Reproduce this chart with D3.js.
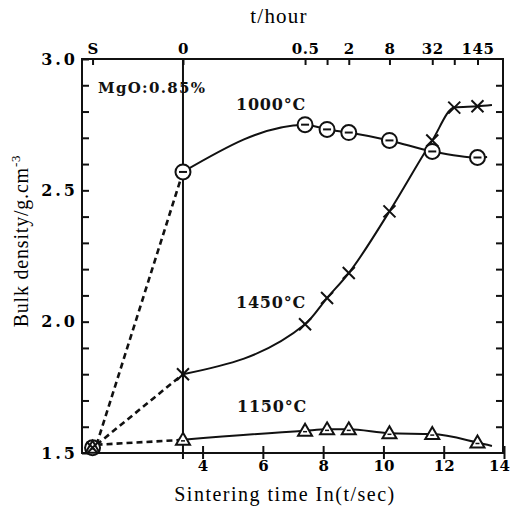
<!DOCTYPE html>
<html lang="en">
  <head>
    <meta charset="UTF-8">
    <title>Bulk density vs sintering time</title>
    <script src="https://d3js.org/d3.v7.min.js"></script>
    <style>
      body { margin: 0; background: white; }
    </style>
  </head>
  <body>
    <script>
      // ln(t/sec) positions of the sampling times
      const startX = 0.35;          // "S"
      const zeroX = 3.35;           // t = 0 hour
      const hourTicks = [7.4, 8.13, 8.85, 10.2, 11.62, 12.35, 13.12];
      const hourLabels = ["0.5", "", "2", "8", "32", "", "145"];
      const startY = 1.52;

      const x1000 = [3.35, 7.4, 8.13, 8.85, 10.2, 11.62, 13.12];
      const y1000 = [2.57, 2.75, 2.732, 2.72, 2.69, 2.648, 2.625];
      const tail1000 = [13.44, 2.627];

      const x1450 = [3.35, 7.4, 8.13, 8.85, 10.2, 11.62, 12.35, 13.12];
      const y1450 = [1.80, 1.99, 2.09, 2.185, 2.42, 2.69, 2.815, 2.82];
      const tail1450 = [13.6, 2.825];

      const x1150 = [3.35, 7.4, 8.13, 8.85, 10.2, 11.62, 13.12];
      const y1150 = [1.55, 1.585, 1.59, 1.59, 1.575, 1.572, 1.54];
      const tail1150 = [13.6, 1.527];

      const bottomTicks = [4, 6, 8, 10, 12, 14];
      const yMajor = [1.5, 2.0, 2.5, 3.0];

      const BOLD = "'DejaVu Serif', 'Liberation Serif', serif";
      const TITLE = "'Liberation Serif', 'Times New Roman', serif";
      const w = 512, h = 513;
      const svg = d3.select("body").append("svg")
                    .attr("width", w).attr("height", h);

      const x = d3.scaleLinear().domain([0, 14]).range([82, 504]);
      const y = d3.scaleLinear().domain([1.5, 3.0]).range([453, 59]);

      // frame
      svg.append("rect")
         .attr("x", x(0)).attr("y", y(3.0))
         .attr("width", x(14) - x(0) - 1).attr("height", y(1.5) - y(3.0))
         .attr("fill", "none").attr("stroke", "#111").attr("stroke-width", 2);

      // left axis
      const yTicks = d3.range(15, 31).map(d => d / 10);
      const gLeft = svg.append("g")
         .attr("transform", `translate(${x(0)},0)`)
         .call(d3.axisLeft(y).tickValues(yTicks).tickSizeInner(-7).tickSizeOuter(0).tickPadding(4)
                 .tickFormat(d => yMajor.some(m => Math.abs(m - d) < 1e-6) ? d.toFixed(1) : ""));
      gLeft.select(".domain").remove();
      gLeft.selectAll("line").attr("stroke-width", 2).attr("stroke", "#111");
      gLeft.selectAll("text").style("font-family", BOLD).style("font-size", "16px").style("font-weight", "bold")
          .style("letter-spacing", "3px");

      // right axis
      const gRight = svg.append("g")
         .attr("transform", `translate(${x(14) - 1},0)`)
         .call(d3.axisRight(y).tickValues(yTicks.slice(1, -1)).tickSizeInner(-7).tickSizeOuter(0).tickFormat(""));
      gRight.select(".domain").remove();
      gRight.selectAll("line").attr("stroke-width", 2).attr("stroke", "#111");

      // bottom axis
      const gBottom = svg.append("g")
         .attr("transform", `translate(0,${y(1.5) + 1})`)
         .call(d3.axisBottom(x).tickValues(bottomTicks).tickSizeInner(-8).tickSizeOuter(0).tickPadding(6)
                 .tickFormat(d3.format("d")));
      gBottom.select(".domain").remove();
      gBottom.selectAll(".tick").append("line").attr("y2", 5);
      gBottom.selectAll("line").attr("stroke-width", 2).attr("stroke", "#111");
      gBottom.selectAll("text").style("font-family", BOLD).style("font-size", "15px").style("font-weight", "bold")
         .attr("dx", d => d === 14 ? -5 : 0);

      // top axis (hours)
      const topVals = [startX, zeroX].concat(hourTicks);
      const topLabels = ["S", "0"].concat(hourLabels);
      const gTop = svg.append("g")
         .attr("transform", `translate(0,${y(3.0)})`)
         .call(d3.axisTop(x).tickValues(topVals).tickSizeInner(-6).tickSizeOuter(0).tickPadding(5)
                 .tickFormat((d, i) => topLabels[i]));
      gTop.select(".domain").remove();
      gTop.selectAll("line").attr("stroke-width", 2).attr("stroke", "#111");
      gTop.selectAll("text").style("font-family", BOLD).style("font-size", "15px").style("font-weight", "bold")
         .style("letter-spacing", "0.5px");

      // vertical line at t = 0
      svg.append("line")
         .attr("x1", x(zeroX)).attr("x2", x(zeroX))
         .attr("y1", y(3.0)).attr("y2", y(1.5) + 6)
         .attr("stroke", "#111").attr("stroke-width", 2);

      // dashed lines from start
      [[x1000, y1000], [x1450, y1450], [x1150, y1150]].forEach(([xs, ys]) => {
        svg.append("line")
           .attr("x1", x(startX) + 4).attr("y1", y(startY) - 3)
           .attr("x2", x(xs[0])).attr("y2", y(ys[0]))
           .attr("stroke", "#111").attr("stroke-width", 2.6)
           .attr("stroke-dasharray", "6,4");
      });

      // solid curves
      const line = d3.line().x(d => x(d[0])).y(d => y(d[1])).curve(d3.curveMonotoneX);
      const series = [
        {xs: x1000, ys: y1000, tail: tail1000, mark: "circle"},
        {xs: x1450, ys: y1450, tail: tail1450, mark: "cross"},
        {xs: x1150, ys: y1150, tail: tail1150, mark: "tri"}
      ];
      series.forEach(s => {
        const pts = s.xs.map((v, i) => [v, s.ys[i]]).concat([s.tail]);
        svg.append("path").attr("d", line(pts))
           .attr("fill", "none").attr("stroke", "#111").attr("stroke-width", 2);
      });

      function drawMark(kind, cx, cy) {
        const g = svg.append("g").attr("transform", `translate(${cx},${cy})`);
        if (kind === "circle") {
          g.append("circle").attr("r", 7.5).attr("fill", "white").attr("stroke", "#111").attr("stroke-width", 2);
          g.append("line").attr("x1", -4).attr("x2", 4).attr("stroke", "#111").attr("stroke-width", 2);
        } else if (kind === "tri") {
          g.append("path").attr("d", "M0,-7L7,5L-7,5Z")
           .attr("fill", "white").attr("stroke", "#111").attr("stroke-width", 2);
          g.append("line").attr("x1", -2).attr("x2", 2).attr("y1", 1).attr("y2", 1)
           .attr("stroke", "#111").attr("stroke-width", 1.5);
        } else {
          g.append("path").attr("d", "M-6,-6L6,6M-6,6L6,-6")
           .attr("stroke", "#111").attr("stroke-width", 2);
        }
      }

      series.forEach(s => s.xs.forEach((v, i) => drawMark(s.mark, x(v), y(s.ys[i]))));

      // start point: all three overlaid
      drawMark("circle", x(startX), y(startY));
      drawMark("tri", x(startX), y(startY));
      drawMark("cross", x(startX), y(startY));

      // labels
      const lab = (tx, ty, str, size, ls) => svg.append("text")
         .attr("x", tx).attr("y", ty).text(str)
         .style("font-family", BOLD).style("fill", "#111")
         .style("font-size", size + "px").style("font-weight", "bold").style("letter-spacing", ls + "px");
      lab(98, 93, "MgO:0.85%", 15, 1.3);
      lab(236, 110, "1000\u00B0C", 16, 0.8);
      lab(236, 308, "1450\u00B0C", 16, 0.8);
      lab(237, 412, "1150\u00B0C", 16, 0.8);

      // axis titles
      svg.append("text").attr("x", 279).attr("y", 23).attr("text-anchor", "middle")
         .style("font-family", TITLE).style("font-size", "21px").style("letter-spacing", "1.2px").text("t/hour");
      svg.append("text").attr("x", 285).attr("y", 501).attr("text-anchor", "middle")
         .style("font-family", TITLE).style("font-size", "20px").style("letter-spacing", "1.5px")
         .text("Sintering time In(t/sec)");
      const yt = svg.append("text")
         .attr("transform", "translate(28,241) rotate(-90)")
         .attr("text-anchor", "middle").style("font-family", TITLE).style("font-size", "20px")
         .style("letter-spacing", "0.8px");
      yt.append("tspan").text("Bulk density/g.cm");
      yt.append("tspan").attr("dy", -8).style("font-size", "13px").text("-3");
    </script>
  </body>
</html>
